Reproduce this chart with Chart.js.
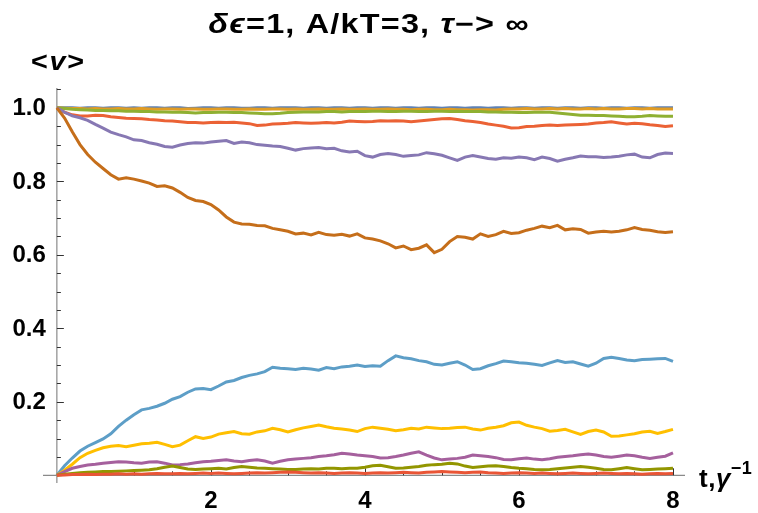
<!DOCTYPE html>
<html>
<head>
<meta charset="utf-8">
<script src="https://cdn.jsdelivr.net/npm/chart.js@4.4.0/dist/chart.umd.min.js"></script>
<style>
html, body { margin: 0; padding: 0; background: #fff; }
</style>
</head>
<body>
<canvas id="wykres" width="758" height="513"></canvas>
<script>
// czas t (w jednostkach 1/gamma)
var czas = [0,0.1,0.2,0.3,0.4,0.5,0.6,0.7,0.8,0.9,
    1,1.1,1.2,1.3,1.4,1.5,1.6,1.7,1.8,1.9,
    2,2.1,2.2,2.3,2.4,2.5,2.6,2.7,2.8,2.9,
    3,3.1,3.2,3.3,3.4,3.5,3.6,3.7,3.8,3.9,
    4,4.1,4.2,4.3,4.4,4.5,4.6,4.7,4.8,4.9,
    5,5.1,5.2,5.3,5.4,5.5,5.6,5.7,5.8,5.9,
    6,6.1,6.2,6.3,6.4,6.5,6.6,6.7,6.8,6.9,
    7,7.1,7.2,7.3,7.4,7.5,7.6,7.7,7.8,7.9,
    8];

// <v>(t) dla kolejnych przebiegow
var v1 = [1,1,1,0.999,1,1,0.999,1,1,0.999,
    1,0.999,1,1,0.999,1,1,0.998,0.999,1,
    1,0.999,1,1,0.999,0.999,1,1,0.999,1,
    1,1,0.999,1,1,0.999,1,1,0.999,1,
    1,0.999,1,1,0.999,1,1,0.999,1,1,
    0.999,1,1,0.999,1,1,0.999,1,1,0.999,
    1,1,0.999,1,1,0.999,1,1,0.999,1,
    1,0.999,1,1,0.999,1,1,0.999,1,1,
    1];
var v2 = [1,0.999,0.998,0.998,0.997,0.998,0.997,0.997,0.998,0.997,
    0.997,0.998,0.997,0.996,0.997,0.997,0.996,0.997,0.997,0.996,
    0.996,0.997,0.997,0.996,0.996,0.997,0.996,0.996,0.997,0.997,
    0.996,0.997,0.996,0.996,0.997,0.996,0.996,0.997,0.996,0.996,
    0.997,0.996,0.996,0.997,0.996,0.996,0.995,0.996,0.996,0.995,
    0.995,0.996,0.995,0.995,0.994,0.995,0.995,0.994,0.996,0.997,
    0.997,0.998,0.997,0.997,0.998,0.997,0.998,0.997,0.997,0.998,
    0.997,0.998,0.997,0.997,0.998,0.998,0.997,0.998,0.997,0.997,
    0.997];
var v3 = [1,0.998,0.996,0.995,0.994,0.993,0.993,0.992,0.992,0.991,
    0.991,0.990,0.990,0.989,0.989,0.988,0.988,0.987,0.986,0.987,
    0.987,0.988,0.988,0.987,0.987,0.986,0.985,0.984,0.984,0.985,
    0.987,0.988,0.989,0.989,0.989,0.990,0.990,0.989,0.990,0.990,
    0.990,0.991,0.991,0.990,0.990,0.991,0.991,0.990,0.990,0.991,
    0.991,0.990,0.991,0.990,0.990,0.990,0.989,0.989,0.988,0.988,
    0.987,0.987,0.988,0.988,0.988,0.986,0.984,0.982,0.980,0.980,
    0.979,0.979,0.978,0.977,0.976,0.976,0.977,0.979,0.978,0.977,
    0.977];
var v4 = [1,0.988,0.981,0.978,0.978,0.980,0.979,0.976,0.974,0.972,
    0.971,0.970,0.968,0.967,0.965,0.964,0.962,0.960,0.960,0.959,
    0.960,0.961,0.960,0.961,0.959,0.957,0.952,0.953,0.956,0.957,
    0.958,0.960,0.959,0.958,0.959,0.960,0.959,0.961,0.964,0.963,
    0.962,0.963,0.965,0.964,0.965,0.964,0.962,0.964,0.966,0.968,
    0.970,0.971,0.968,0.965,0.963,0.960,0.956,0.953,0.950,0.945,
    0.946,0.949,0.950,0.952,0.953,0.952,0.953,0.954,0.955,0.956,
    0.959,0.960,0.962,0.959,0.956,0.958,0.957,0.954,0.952,0.949,
    0.951];
var v5 = [1,0.988,0.978,0.973,0.966,0.955,0.945,0.934,0.927,0.921,
    0.913,0.911,0.905,0.901,0.895,0.893,0.899,0.903,0.905,0.904,
    0.907,0.909,0.911,0.903,0.907,0.905,0.900,0.898,0.896,0.895,
    0.890,0.885,0.889,0.891,0.892,0.889,0.890,0.883,0.880,0.882,
    0.870,0.866,0.873,0.876,0.873,0.868,0.870,0.872,0.878,0.875,
    0.871,0.864,0.857,0.866,0.870,0.866,0.862,0.860,0.864,0.863,
    0.866,0.864,0.859,0.866,0.862,0.855,0.860,0.864,0.869,0.867,
    0.867,0.865,0.866,0.868,0.872,0.874,0.866,0.864,0.873,0.877,
    0.876];
var v6 = [1,0.972,0.935,0.900,0.873,0.852,0.835,0.818,0.806,0.810,
    0.806,0.801,0.795,0.786,0.788,0.782,0.770,0.756,0.748,0.745,
    0.737,0.722,0.703,0.689,0.684,0.683,0.680,0.679,0.672,0.668,
    0.664,0.657,0.659,0.654,0.661,0.655,0.653,0.656,0.651,0.657,
    0.646,0.643,0.638,0.630,0.619,0.624,0.614,0.618,0.627,0.606,
    0.615,0.636,0.650,0.648,0.643,0.657,0.650,0.655,0.664,0.658,
    0.660,0.667,0.672,0.678,0.674,0.680,0.668,0.671,0.669,0.659,
    0.662,0.664,0.662,0.664,0.668,0.674,0.669,0.667,0.663,0.661,
    0.663];
var v7 = [0,0.026,0.047,0.066,0.079,0.089,0.099,0.113,0.133,0.150,
    0.165,0.178,0.182,0.188,0.196,0.207,0.214,0.226,0.235,0.236,
    0.233,0.243,0.254,0.258,0.266,0.272,0.276,0.282,0.294,0.291,
    0.290,0.288,0.291,0.289,0.286,0.293,0.290,0.295,0.297,0.300,
    0.296,0.298,0.297,0.312,0.325,0.320,0.317,0.312,0.309,0.302,
    0.300,0.305,0.309,0.300,0.288,0.290,0.298,0.304,0.311,0.309,
    0.306,0.305,0.302,0.299,0.306,0.312,0.307,0.309,0.303,0.297,
    0.305,0.318,0.321,0.318,0.314,0.312,0.315,0.316,0.317,0.318,
    0.310];
var v8 = [0,0.014,0.030,0.048,0.060,0.068,0.075,0.079,0.081,0.078,
    0.082,0.086,0.087,0.090,0.084,0.078,0.082,0.094,0.105,0.100,
    0.104,0.112,0.116,0.119,0.113,0.112,0.118,0.121,0.128,0.124,
    0.118,0.124,0.129,0.133,0.137,0.132,0.128,0.126,0.123,0.119,
    0.127,0.131,0.128,0.125,0.121,0.124,0.128,0.126,0.131,0.129,
    0.127,0.128,0.130,0.131,0.126,0.123,0.128,0.131,0.135,0.143,
    0.145,0.136,0.131,0.127,0.120,0.122,0.125,0.118,0.111,0.119,
    0.123,0.118,0.106,0.107,0.110,0.113,0.118,0.120,0.114,0.119,
    0.125];
var v9 = [0,0.010,0.019,0.024,0.028,0.030,0.033,0.035,0.037,0.036,
    0.034,0.033,0.036,0.037,0.033,0.028,0.029,0.031,0.034,0.037,
    0.038,0.040,0.042,0.039,0.037,0.040,0.042,0.039,0.033,0.038,
    0.042,0.044,0.046,0.048,0.051,0.053,0.056,0.060,0.058,0.055,
    0.053,0.051,0.047,0.048,0.051,0.055,0.060,0.064,0.055,0.047,
    0.042,0.044,0.046,0.049,0.055,0.053,0.051,0.048,0.043,0.042,
    0.045,0.047,0.044,0.042,0.045,0.049,0.051,0.053,0.056,0.058,
    0.055,0.051,0.049,0.052,0.055,0.053,0.049,0.046,0.049,0.052,
    0.061];
var v10 = [0,0.003,0.005,0.007,0.008,0.009,0.010,0.010,0.011,0.012,
    0.013,0.014,0.015,0.018,0.022,0.025,0.021,0.017,0.016,0.017,
    0.018,0.019,0.017,0.021,0.024,0.022,0.020,0.019,0.018,0.017,
    0.016,0.016,0.017,0.018,0.017,0.019,0.019,0.018,0.019,0.019,
    0.022,0.026,0.027,0.023,0.019,0.020,0.022,0.024,0.027,0.029,
    0.030,0.033,0.031,0.025,0.021,0.023,0.025,0.026,0.024,0.021,
    0.019,0.018,0.016,0.015,0.016,0.018,0.020,0.022,0.024,0.022,
    0.019,0.016,0.015,0.018,0.021,0.018,0.015,0.016,0.017,0.018,
    0.019];
var v11 = [0,0.001,0.002,0.002,0.003,0.002,0.003,0.003,0.004,0.003,
    0.004,0.003,0.004,0.005,0.004,0.004,0.005,0.004,0.005,0.006,
    0.005,0.006,0.005,0.004,0.005,0.006,0.007,0.006,0.007,0.008,
    0.009,0.008,0.007,0.006,0.007,0.006,0.005,0.006,0.007,0.006,
    0.005,0.006,0.007,0.006,0.007,0.008,0.007,0.006,0.008,0.009,
    0.010,0.009,0.008,0.007,0.008,0.009,0.007,0.006,0.005,0.006,
    0.007,0.006,0.005,0.006,0.005,0.004,0.005,0.006,0.005,0.004,
    0.005,0.006,0.005,0.004,0.005,0.004,0.003,0.004,0.005,0.004,
    0.005];

var przebiegi = [v1, v2, v3, v4, v5, v6, v7, v8, v9, v10, v11];
var kolory = ['#5E81B5','#E19C24','#8FB032','#EB6235','#8778B3','#C56E1A',
    '#5D9EC7','#FFBF00','#A5609D','#929600','#E95536'];

// podzialka osi
var xDuze = [2, 4, 6, 8];
var xMale = [0.5, 1, 1.5, 2.5, 3, 3.5, 4.5, 5, 5.5, 6.5, 7, 7.5];
var yDuze = [0.2, 0.4, 0.6, 0.8, 1.0];
var yMale = [0.05, 0.1, 0.15, 0.25, 0.3, 0.35, 0.45, 0.5, 0.55, 0.65, 0.7, 0.75, 0.85, 0.9, 0.95, 1.05];
var xOpisy = ['2', '4', '6', '8'];
var yOpisy = ['0.2', '0.4', '0.6', '0.8', '1.0'];

var FONT = '"Liberation Sans", Arial, sans-serif';

// tekst z kawalkami o roznym kroju: [tekst, italic, rozmiar, przesuniecie w gore]
// skala - rozciagniecie w poziomie, odstep - dodatkowy odstep miedzy literami
function napis(ctx, kawalki, x, y, wyrownanie, skala, odstep) {
    skala = skala || 1;
    ctx.letterSpacing = (odstep || 0) + 'px';
    var szer = 0;
    for (var i = 0; i < kawalki.length; i++) {
        var k = kawalki[i];
        ctx.font = (k[1] ? 'italic ' : '') + 'bold ' + k[2] + 'px ' + FONT;
        szer += ctx.measureText(k[0]).width;
    }
    var px = x;
    if (wyrownanie == 'center') px = x - szer * skala / 2;
    ctx.textAlign = 'left';
    ctx.textBaseline = 'alphabetic';
    for (var i = 0; i < kawalki.length; i++) {
        var k = kawalki[i];
        ctx.font = (k[1] ? 'italic ' : '') + 'bold ' + k[2] + 'px ' + FONT;
        ctx.save();
        ctx.translate(px, y - (k[3] || 0));
        ctx.scale(skala, 1);
        ctx.fillText(k[0], 0, 0);
        ctx.restore();
        px += ctx.measureText(k[0]).width * skala;
    }
    ctx.letterSpacing = '0px';
}

var osie = {
    id: 'osie',
    beforeDatasetsDraw: function(chart) {
        var ctx = chart.ctx;
        var sx = chart.scales.x, sy = chart.scales.y, a = chart.chartArea;
        var x0 = sx.getPixelForValue(0), y0 = sy.getPixelForValue(0);
        ctx.save();
        ctx.strokeStyle = '#8a8a8a';
        ctx.lineWidth = 1.2;
        ctx.beginPath();
        ctx.moveTo(a.left, y0); ctx.lineTo(a.right, y0);
        ctx.moveTo(x0, a.top); ctx.lineTo(x0, a.bottom);
        ctx.stroke();

        ctx.strokeStyle = '#333';
        ctx.lineWidth = 1;
        ctx.beginPath();
        for (var i = 0; i < xDuze.length; i++) {
            var p = Math.round(sx.getPixelForValue(xDuze[i])) + 0.5;
            ctx.moveTo(p, y0); ctx.lineTo(p, y0 - 7);
        }
        for (var i = 0; i < xMale.length; i++) {
            var p = Math.round(sx.getPixelForValue(xMale[i])) + 0.5;
            ctx.moveTo(p, y0); ctx.lineTo(p, y0 - 4);
        }
        for (var i = 0; i < yDuze.length; i++) {
            var p = Math.round(sy.getPixelForValue(yDuze[i])) + 0.5;
            ctx.moveTo(x0, p); ctx.lineTo(x0 + 7, p);
        }
        for (var i = 0; i < yMale.length; i++) {
            var p = Math.round(sy.getPixelForValue(yMale[i])) + 0.5;
            ctx.moveTo(x0, p); ctx.lineTo(x0 + 4, p);
        }
        ctx.stroke();

        ctx.fillStyle = '#000';
        ctx.font = 'bold 24px ' + FONT;
        ctx.textAlign = 'center';
        ctx.textBaseline = 'top';
        for (var i = 0; i < xDuze.length; i++) {
            ctx.fillText(xOpisy[i], sx.getPixelForValue(xDuze[i]), y0 + 14);
        }
        ctx.textAlign = 'right';
        ctx.textBaseline = 'middle';
        for (var i = 0; i < yDuze.length; i++) {
            ctx.fillText(yOpisy[i], x0 - 11, sy.getPixelForValue(yDuze[i]) + 1);
        }

        // tytul i opisy osi
        napis(ctx, [['δϵ', true, 27], ['=1, A/kT=3, ', false, 27], ['τ', true, 27], ['−> ∞', false, 27]], 369, 33, 'center', 1.2, 1);
        napis(ctx, [['<', false, 25], ['v', true, 25], ['>', false, 25]], 31, 70, 'left', 1.15, 1.5);
        napis(ctx, [['t,', false, 26], ['γ', true, 26], ['−1', false, 18, 13]], 699, 487, 'left', 1, 0.5);
        ctx.restore();
    }
};

var zbiory = [];
for (var i = 0; i < przebiegi.length; i++) {
    var punkty = [];
    for (var j = 0; j < czas.length; j++) {
        punkty.push({x: czas[j], y: przebiegi[i][j]});
    }
    zbiory.push({
        data: punkty,
        borderColor: kolory[i],
        borderWidth: 3,
        pointRadius: 0,
        fill: false,
        tension: 0,
        order: 20 - i
    });
}

var ctx = document.getElementById('wykres').getContext('2d');
new Chart(ctx, {
    type: 'line',
    data: { datasets: zbiory },
    options: {
        responsive: false,
        animation: false,
        layout: { padding: { left: 43, right: 73, top: 88, bottom: 30 } },
        plugins: { legend: { display: false }, tooltip: { enabled: false } },
        scales: {
            x: { type: 'linear', min: -0.18, max: 8.156, display: false },
            y: { type: 'linear', min: -0.021, max: 1.054, display: false }
        }
    },
    plugins: [osie]
});
</script>
</body>
</html>
